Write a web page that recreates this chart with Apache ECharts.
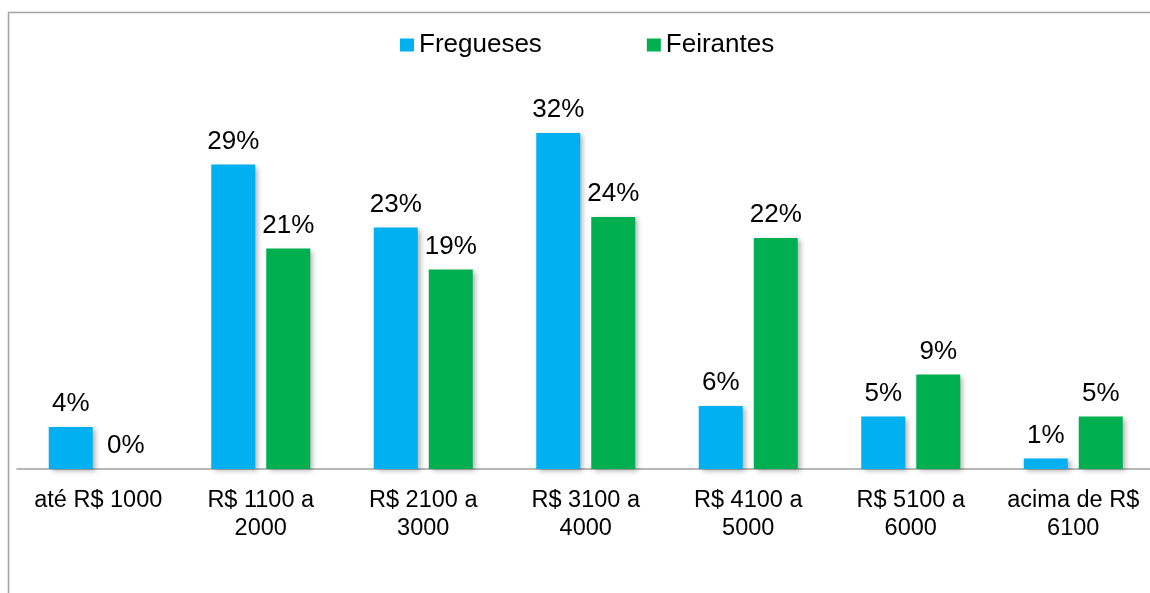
<!DOCTYPE html>
<html>
<head>
<meta charset="utf-8">
<script src="https://cdn.jsdelivr.net/npm/echarts@6/dist/echarts.min.js"></script>
<style>
  html, body { margin: 0; padding: 0; background: #fff; }
  #chart { width: 1150px; height: 593px; }
</style>
</head>
<body>
<div id="chart"></div>
<script>
// Faixas de renda (categorias do eixo X)
const categories = [
  'até R$ 1000',
  'R$ 1100 a\n2000',
  'R$ 2100 a\n3000',
  'R$ 3100 a\n4000',
  'R$ 4100 a\n5000',
  'R$ 5100 a\n6000',
  'acima de R$\n6100'
];

// Percentuais por grupo
const fregueses = [4, 29, 23, 32, 6, 5, 1];
const feirantes = [0, 21, 19, 24, 22, 9, 5];

const seriesNames = ['Fregueses', 'Feirantes'];

const FONT = '"Liberation Sans", Arial, sans-serif';

const barShadow = {
  shadowColor: 'rgba(0,0,0,0.3)',
  shadowBlur: 5,
  shadowOffsetX: 3,
  shadowOffsetY: 2
};

const valueLabel = {
  show: true,
  position: 'top',
  distance: 10,
  formatter: p => p.value + '%',
  color: '#000',
  fontFamily: FONT,
  fontSize: 26
};

const chart = echarts.init(document.getElementById('chart'), null, { renderer: 'canvas' });

chart.setOption({
  animation: false,
  backgroundColor: '#fff',
  graphic: [{
    type: 'rect',
    shape: { x: 8.5, y: 12.5, width: 1200, height: 700 },
    style: { fill: 'none', stroke: '#a3a3a3', lineWidth: 1.5 },
    z: -1
  }],
  legend: {
    data: seriesNames,
    top: 32,
    left: 400,
    padding: 0,
    itemWidth: 14,
    itemHeight: 13,
    itemGap: 105,
    icon: 'rect',
    textStyle: { fontFamily: FONT, fontSize: 26, color: '#000' }
  },
  grid: {
    left: 17,
    top: 49,
    width: 1137.5,
    height: 420,
    outerBoundsMode: 'none',
    containLabel: false
  },
  xAxis: {
    type: 'category',
    data: categories,
    axisLine: { show: true, lineStyle: { color: '#a0a0a0', width: 1.5 } },
    axisTick: { show: false },
    axisLabel: {
      interval: 0,
      margin: 18,
      color: '#000',
      fontFamily: FONT,
      fontSize: 23.5,
      lineHeight: 28,
      align: 'center',
      hideOverlap: false
    }
  },
  yAxis: {
    type: 'value',
    min: 0,
    max: 40,
    show: false,
    splitLine: { show: false }
  },
  series: [
    {
      name: seriesNames[0],
      type: 'bar',
      data: fregueses,
      barWidth: 44,
      barGap: '25%',
      itemStyle: Object.assign({ color: '#00B0F0' }, barShadow),
      label: valueLabel
    },
    {
      name: seriesNames[1],
      type: 'bar',
      data: feirantes,
      barWidth: 44,
      barGap: '25%',
      itemStyle: Object.assign({ color: '#00B050' }, barShadow),
      label: valueLabel
    }
  ]
});
</script>
</body>
</html>
